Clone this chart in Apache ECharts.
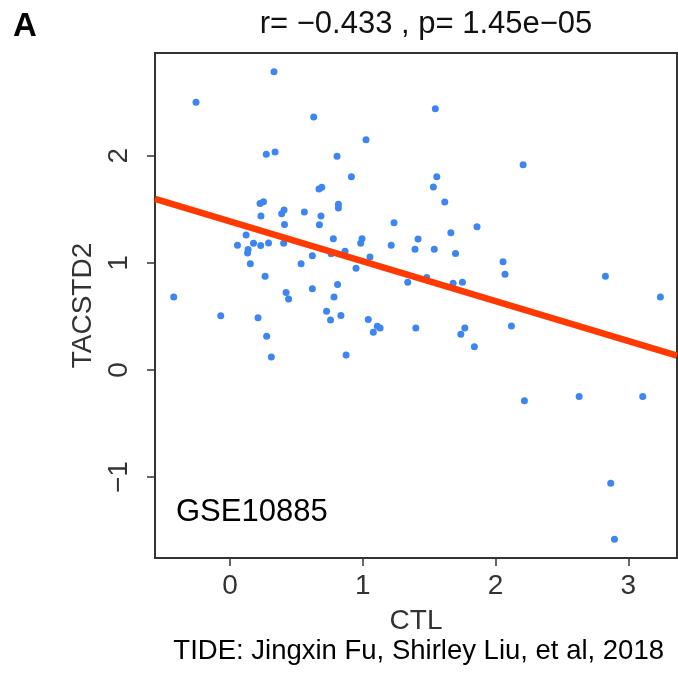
<!DOCTYPE html>
<html>
<head>
<meta charset="utf-8">
<script src="https://cdn.jsdelivr.net/npm/echarts@6/dist/echarts.min.js"></script>
<style>
html,body{margin:0;padding:0;background:#fff;}
#chart{width:678px;height:686px;}
</style>
</head>
<body>
<div id="chart"></div>
<script>
// CTL values (x)
const ctl = [0.331,-0.256,0.630,0.273,0.339,0.670,0.691,0.226,0.252,0.233,
0.389,0.407,0.560,0.685,1.546,1.024,0.806,0.914,1.557,1.531,
1.617,0.816,0.816,2.207,0.410,0.673,0.121,0.056,0.177,0.231,
0.290,0.404,0.136,0.132,0.153,0.535,0.620,0.761,0.264,-0.424,
0.422,0.441,0.620,-0.070,0.211,0.727,0.757,0.276,0.311,1.235,
1.860,0.778,0.994,0.984,1.214,1.416,1.393,1.538,1.663,1.698,
0.866,1.054,0.949,2.056,1.338,1.481,1.680,1.750,0.810,0.783,
0.835,1.041,1.109,1.130,1.079,1.399,1.768,1.738,1.840,0.874,
2.071,2.827,3.241,2.119,2.217,2.629,3.108,2.867,2.895];
// TACSTD2 values (y)
const tacstd2 = [2.785,2.500,2.362,2.014,2.035,1.690,1.706,1.556,1.571,1.438,
1.459,1.494,1.475,1.438,2.440,2.150,1.995,1.805,1.805,1.709,
1.569,1.548,1.513,1.917,1.359,1.357,1.261,1.164,1.183,1.162,
1.186,1.184,1.125,1.092,0.993,0.993,1.067,1.085,0.876,0.682,
0.725,0.663,0.759,0.507,0.488,0.548,0.467,0.315,0.121,1.375,
1.338,1.225,1.225,1.184,1.165,1.223,1.127,1.127,1.281,1.088,
1.108,1.055,0.951,1.011,0.820,0.864,0.810,0.820,0.798,0.682,
0.509,0.472,0.408,0.392,0.353,0.392,0.392,0.333,0.218,0.140,
0.894,0.875,0.682,0.411,-0.287,-0.246,-0.246,-1.058,-1.581];
// fitted regression line endpoints
const fitX = [-0.565, 3.366];
const fitY = [1.597, 0.135];
// tick values
const xTicks = [0, 1, 2, 3];
const yTicks = [-1, 0, 1, 2];
const titleText = 'r= \u22120.433 , p= 1.45e\u221205';
const datasetLabel = 'GSE10885';
const creditText = 'TIDE: Jingxin Fu, Shirley Liu, et al, 2018';

const points = ctl.map((x, i) => [x, tacstd2[i]]);
const fitLine = fitX.map((x, i) => [x, fitY[i]]);
const fmt = v => String(v).replace('-', '\u2212');
const FONT = 'Liberation Sans, Arial, sans-serif';

const chart = echarts.init(document.getElementById('chart'));
chart.setOption({
  animation: false,
  backgroundColor: '#fff',
  title: [{
    text: titleText, left: 421, top: 4, textAlign: 'center',
    textStyle: {fontFamily: FONT, fontSize: 31, fontWeight: 'normal', color: '#111'}
  }, {
    text: 'A', left: 8, top: 5,
    textStyle: {fontFamily: FONT, fontSize: 33, fontWeight: 'bold', color: '#000'}
  }],
  grid: {left: 155, top: 53, right: 1, bottom: 128, show: true,
    borderColor: '#333', borderWidth: 2, backgroundColor: '#fff'},
  xAxis: {
    type: 'value', min: -0.565, max: 3.366,
    name: 'CTL', nameLocation: 'middle', nameGap: 49,
    nameTextStyle: {fontFamily: FONT, fontSize: 28, color: '#333'},
    axisLine: {show: false, onZero: false},
    axisTick: {show: true, length: 8, customValues: xTicks, lineStyle: {color: '#333', width: 1.5}},
    axisLabel: {customValues: xTicks, formatter: fmt, margin: 14, fontFamily: FONT, fontSize: 28, color: '#333'},
    splitLine: {show: false}
  },
  yAxis: {
    type: 'value', min: -1.755, max: 2.96,
    name: 'TACSTD2', nameLocation: 'middle', nameGap: 56, nameRotate: 90,
    nameTextStyle: {fontFamily: FONT, fontSize: 28, color: '#333'},
    axisLine: {show: false, onZero: false},
    axisTick: {show: true, length: 8, customValues: yTicks, lineStyle: {color: '#333', width: 1.5}},
    axisLabel: {customValues: yTicks, formatter: fmt, rotate: 90, margin: 22, fontFamily: FONT, fontSize: 28, color: '#333'},
    splitLine: {show: false}
  },
  series: [{
    type: 'scatter', data: points, symbolSize: 7,
    itemStyle: {color: '#3d86f2', opacity: 1}, z: 2
  }, {
    type: 'line', data: fitLine, symbol: 'none', z: 3,
    lineStyle: {color: '#ff3a00', width: 6.5}
  }],
  graphic: [{
    type: 'text', left: 176, top: 497,
    style: {text: datasetLabel, fontFamily: FONT, fontSize: 31, fill: '#000'}
  }, {
    type: 'text', right: 14, top: 637,
    style: {text: creditText, fontFamily: FONT, fontSize: 27.5, fill: '#000'}
  }]
});
</script>
</body>
</html>
